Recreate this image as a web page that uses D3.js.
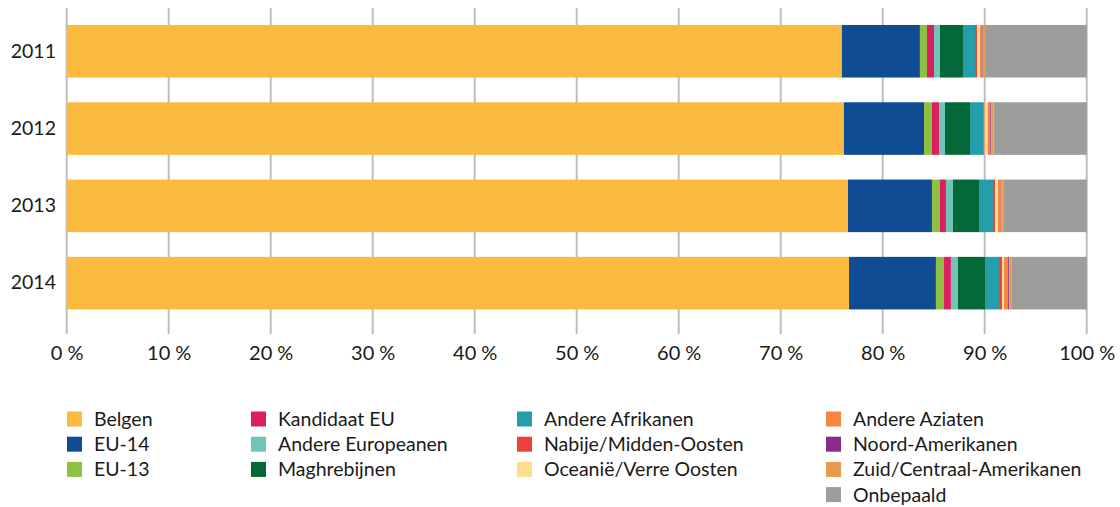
<!DOCTYPE html>
<html><head><meta charset="utf-8">
<script src="https://cdn.jsdelivr.net/npm/d3@7"></script>
<style>body{margin:0;background:#fff}svg{display:block;font-family:Lato,"Open Sans",sans-serif}</style>
</head><body><svg id="c" width="1120" height="507"></svg>
<script>
const years = ["2011","2012","2013","2014"];
const series = ["Belgen","EU-14","EU-13","Kandidaat EU","Andere Europeanen","Maghrebijnen","Andere Afrikanen","Nabije/Midden-Oosten","Oceanië/Verre Oosten","Andere Aziaten","Noord-Amerikanen","Zuid/Centraal-Amerikanen","Onbepaald"];
const colors = ["#FBBA40","#0F4C94","#8DC043","#DA205F","#72C3B8","#036838","#249EAA","#E8443A","#FEDE8C","#F4863D","#8A2B85","#E89B4F","#9D9D9B"];
const belgen = [76.0, 76.2, 76.6, 76.7];
const eu14 = [7.65, 7.85, 8.23, 8.52];
const eu13 = [0.69, 0.78, 0.78, 0.78];
const kandidaat = [0.69, 0.69, 0.59, 0.69];
const andereEuropeanen = [0.59, 0.59, 0.69, 0.69];
const maghrebijnen = [2.25, 2.45, 2.55, 2.65];
const andereAfrikanen = [1.18, 1.3, 1.37, 1.37];
const nabijeOosten = [0.2, 0.13, 0.2, 0.3];
const oceanie = [0.3, 0.3, 0.3, 0.2];
const andereAziaten = [0.15, 0.26, 0.26, 0.4];
const noordAmerikanen = [0.1, 0.1, 0.05, 0.1];
const zuidAmerikanen = [0.25, 0.23, 0.26, 0.2];
const onbepaald = [9.95, 9.12, 8.12, 7.4];
const xTicks = [0,10,20,30,40,50,60,70,80,90,100];

const valuesBySeries = [belgen, eu14, eu13, kandidaat, andereEuropeanen, maghrebijnen, andereAfrikanen, nabijeOosten, oceanie, andereAziaten, noordAmerikanen, zuidAmerikanen, onbepaald];
const table = years.map((y,i)=>{const o={year:y}; series.forEach((s,j)=>o[s]=valuesBySeries[j][i]); return o;});
const stacked = d3.stack().keys(series)(table);

const svg = d3.select("#c");
const x = d3.scaleLinear().domain([0,100]).range([66.7,1086.7]);
const y = d3.scaleBand().domain(years).range([12.6,321.8]).paddingInner(0.32).paddingOuter(0.16);
const color = d3.scaleOrdinal().domain(series).range(colors);

// gridlines
svg.append("g").selectAll("line").data(xTicks).join("line")
  .attr("x1",d=>x(d)).attr("x2",d=>x(d)).attr("y1",8).attr("y2",334)
  .attr("stroke","#bdbdbd").attr("stroke-width",2);

// bars
svg.append("g").selectAll("g").data(stacked).join("g").attr("fill",d=>color(d.key))
  .selectAll("rect").data(d=>d).join("rect")
  .attr("x",d=>x(d[0])).attr("width",d=>Math.max(0,x(Math.min(100,d[1]))-x(d[0])))
  .attr("y",d=>y(d.data.year)).attr("height",y.bandwidth());

// x axis labels
const xa = svg.append("g").attr("transform","translate(0,357)")
  .call(d3.axisBottom(x).tickValues(xTicks).tickSize(0).tickFormat(d=>d+" %"));
xa.select(".domain").remove();
xa.selectAll("text").attr("font-size",20).attr("fill","#1a1a1a").attr("font-family","Lato,sans-serif").attr("dy","0");

// y axis labels
const ya = svg.append("g").attr("transform","translate(56,0)")
  .call(d3.axisLeft(y).tickSize(0).tickPadding(0));
ya.select(".domain").remove();
ya.selectAll("text").attr("font-size",19.5).attr("fill","#1a1a1a").attr("font-family","Lato,sans-serif");

// legend
const colX = [67,251,517,826];
const rowsPerCol = [3,3,3,4];
const leg = svg.append("g");
let idx = 0;
colX.forEach((cx,ci)=>{
  for(let r=0;r<rowsPerCol[ci];r++){
    const s = series[idx++];
    const gy = 419 + r*25.2;
    leg.append("rect").attr("x",cx).attr("y",gy-7.5).attr("width",15).attr("height",15).attr("fill",color(s));
    leg.append("text").attr("x",cx+27).attr("y",gy).attr("dy","0.36em")
      .attr("font-size",19.5).attr("fill","#1a1a1a").text(s);
  }
});
</script></body></html>
